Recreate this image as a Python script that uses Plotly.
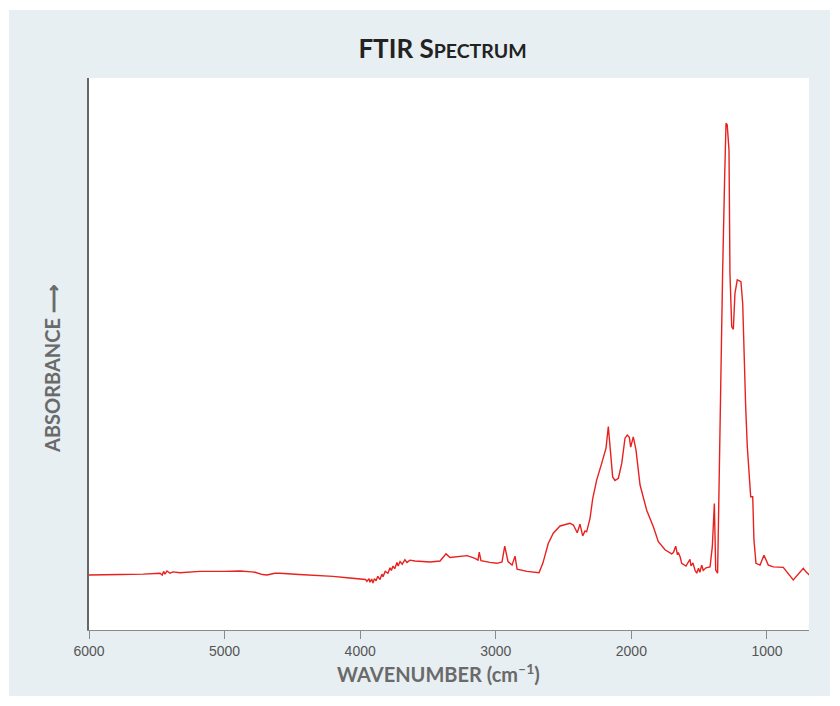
import plotly.graph_objects as go

# Wavenumber (cm-1)
wavenumber = [
    6000, 5900, 5771, 5600, 5500, 5476, 5460, 5450, 5440, 5425, 5403, 5380, 5329, 5250, 5181,
    5000, 4886, 4800, 4776, 4720, 4687, 4630, 4591, 4450, 4348, 4200, 4097, 4001, 3960, 3950,
    3935, 3928, 3915, 3906, 3895, 3883, 3870, 3854, 3840, 3832, 3815, 3795, 3780, 3770, 3758,
    3745, 3729, 3720, 3706, 3690, 3670, 3655, 3633, 3596, 3559, 3485, 3411, 3389, 3367, 3338,
    3264, 3212, 3153, 3131, 3122, 3109, 3043, 2991, 2954, 2934, 2910, 2880, 2858, 2843, 2770,
    2681, 2652, 2613, 2576, 2526, 2453, 2428, 2399, 2379, 2359, 2342, 2330, 2305, 2285, 2256,
    2219, 2187, 2170, 2158, 2138, 2121, 2096, 2071, 2047, 2030, 2015, 2005, 1986, 1966, 1936,
    1887, 1838, 1801, 1752, 1703, 1690, 1673, 1660, 1654, 1640, 1629, 1597, 1568, 1560, 1546,
    1530, 1518, 1505, 1495, 1481, 1470, 1450, 1420, 1403, 1388, 1378, 1364, 1352, 1337, 1327,
    1312, 1302, 1293, 1280, 1273, 1260, 1248, 1236, 1219, 1192, 1179, 1169, 1157, 1145, 1130,
    1120, 1105, 1096, 1081, 1051, 1022, 990, 953, 880, 806, 756, 732, 712, 688,
]

# Absorbance (arbitrary units)
absorbance = [
    0.000, 0.001, 0.001, 0.002, 0.003, 0.004, 0.000, 0.008, 0.002, 0.009, 0.004, 0.007, 0.005, 0.007, 0.008,
    0.008, 0.009, 0.007, 0.006, 0.001, 0.000, 0.004, 0.004, 0.001, 0.000, -0.003, -0.006, -0.009, -0.010, -0.014,
    -0.008, -0.016, -0.009, -0.018, -0.008, -0.013, -0.003, -0.010, 0.002, -0.004, 0.008, 0.004, 0.016, 0.010, 0.020,
    0.014, 0.028, 0.020, 0.030, 0.024, 0.034, 0.028, 0.033, 0.031, 0.030, 0.029, 0.031, 0.038, 0.047, 0.039,
    0.041, 0.043, 0.037, 0.033, 0.051, 0.032, 0.028, 0.026, 0.029, 0.064, 0.030, 0.022, 0.042, 0.013, 0.008,
    0.005, 0.027, 0.070, 0.093, 0.109, 0.115, 0.111, 0.094, 0.113, 0.087, 0.098, 0.096, 0.126, 0.170, 0.211,
    0.248, 0.282, 0.330, 0.293, 0.218, 0.210, 0.215, 0.248, 0.304, 0.311, 0.306, 0.284, 0.307, 0.278, 0.200,
    0.144, 0.107, 0.074, 0.056, 0.047, 0.050, 0.064, 0.045, 0.050, 0.040, 0.026, 0.020, 0.035, 0.020, 0.027,
    0.010, 0.004, 0.015, 0.006, 0.022, 0.010, 0.016, 0.018, 0.063, 0.159, 0.011, 0.004, 0.241, 0.470, 0.674,
    0.885, 1.004, 1.000, 0.944, 0.670, 0.552, 0.546, 0.626, 0.656, 0.652, 0.604, 0.478, 0.374, 0.285, 0.218,
    0.174, 0.174, 0.078, 0.026, 0.022, 0.044, 0.022, 0.018, 0.017, -0.011, 0.007, 0.015, 0.007, 0.000,
]

x_ticks = [6000, 5000, 4000, 3000, 2000, 1000]
x_tick_labels = ["6000", "5000", "4000", "3000", "2000", "1000"]

fig = go.Figure()
fig.add_trace(go.Scatter(
    x=wavenumber, y=absorbance, mode="lines",
    line=dict(color="#e8211f", width=1.4),
    showlegend=False, hoverinfo="x+y",
))

panel = "#e7eff2"
W, H = 832, 698  # page body has an 8px margin
fig.update_layout(
    width=W, height=H,
    margin=dict(l=81, r=31, t=70, b=76),
    paper_bgcolor="white",
    plot_bgcolor="white",
    title=dict(
        text="<b>FTIR S<span style='font-size:19.5px'>PECTRUM</span></b>",
        x=434.5 / W, xref="container", xanchor="center",
        y=1 - 41 / H, yref="container", yanchor="middle",
        font=dict(family="Lato, Open Sans, sans-serif", size=26, color="#222222"),
    ),
    shapes=[
        dict(type="rect", xref="paper", yref="paper", x0=-0.1111, x1=1.0292, y0=-0.1196, y1=1.1232,
             fillcolor=panel, line=dict(width=0), layer="below"),
        dict(type="rect", xref="paper", yref="paper", x0=0, x1=1, y0=0, y1=1,
             fillcolor="white", line=dict(width=0), layer="below"),
    ],
    annotations=[
        dict(text="<b>ABSORBANCE ⟶</b>", xref="paper", yref="paper", x=-0.0514, y=0.4746,
             textangle=-90, showarrow=False, xanchor="center", yanchor="middle",
             font=dict(family="Lato, sans-serif", size=20, color="#6a6a6a")),
        dict(text="<b>WAVENUMBER (cm<sup>–1</sup>)</b>", xref="paper", yref="paper", x=0.486, y=-0.078,
             showarrow=False, xanchor="center", yanchor="middle",
             font=dict(family="Lato, sans-serif", size=20, color="#6a6a6a")),
    ],
)

fig.update_xaxes(
    range=[6000, 690], tickvals=x_ticks, ticktext=x_tick_labels,
    showgrid=False, zeroline=False, showline=True, linecolor="#8a8a8a", linewidth=1,
    ticks="outside", ticklen=8, tickcolor="#8a8a8a", tickwidth=1,
    tickfont=dict(family="Liberation Sans, Arial, sans-serif", size=14, color="#555555"),
    mirror=False,
)
fig.update_yaxes(
    range=[-0.1222, 1.1044], showticklabels=False, ticks="",
    showgrid=False, zeroline=False, showline=True, linecolor="#666666", linewidth=1.5,
    mirror=False,
)

fig.write_html("out.html")
